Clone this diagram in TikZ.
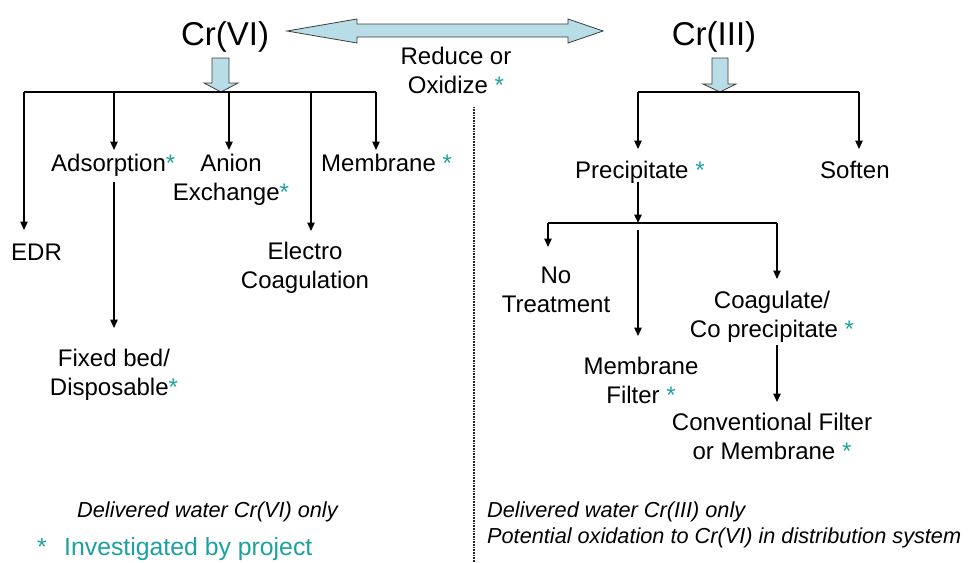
\documentclass[tikz,border=0pt]{standalone}
\usepackage{fontspec}
\setmainfont{Liberation Sans}
\usetikzlibrary{arrows.meta}
\definecolor{teal}{RGB}{28,160,160}
\definecolor{lblue}{RGB}{185,221,230}
\definecolor{edge}{RGB}{60,60,60}
\newcommand{\st}{\textcolor{teal}{*}}
\begin{document}
\begin{tikzpicture}[x=1pt,y=-1pt,
  lbl/.style={inner sep=0pt,font=\fontsize{24}{29}\selectfont,align=center},
  big/.style={inner sep=0pt,font=\fontsize{33}{38}\selectfont},
  note/.style={inner sep=0pt,font=\fontsize{21.7}{26}\selectfont\itshape,align=left},
  bus/.style={line width=1.3pt,black},
  arr/.style={line width=1.3pt,black,-{Triangle[width=7.5pt,length=8.5pt]}},
  blockarrow/.style={fill=lblue,draw=edge,line width=0.8pt,line join=miter}]
\useasboundingbox (0,0) rectangle (968,562);

% titles
\node[big,anchor=base] (cr6) at (225,45) {Cr(VI)};
\node[big,anchor=base] (cr3) at (714,45) {Cr(III)};
\node[lbl,anchor=base] (redox) at (456,93) {Reduce or\\Oxidize \st};

% double block arrow between Cr(VI) and Cr(III)
\draw[blockarrow] (287,31) -- (357,19) -- (357,24) -- (568,24) -- (568,19) -- (603,31)
  -- (568,43) -- (568,37) -- (357,37) -- (357,43) -- cycle;

% small block arrows
\draw[blockarrow] (212,58) -- (229,58) -- (229,83) -- (238,83) -- (221,92) -- (204,83) -- (212,83) -- cycle;
\draw[blockarrow] (712,58) -- (728,58) -- (728,84) -- (736,84) -- (720,92) -- (703,84) -- (712,84) -- cycle;

% left tree labels
\node[lbl,anchor=base west] (edr) at (11,260) {EDR};
\node[lbl,anchor=base west] (ads) at (51,171) {Adsorption\st};
\node[lbl,anchor=base] (anion) at (231,200) {Anion\\Exchange\st};
\node[lbl,anchor=base west] (memb) at (321,171) {Membrane \st};
\node[lbl,anchor=base] (electro) at (305,288) {Electro\\Coagulation};
\node[lbl,anchor=base] (fixed) at (114,395) {Fixed bed/\\Disposable\st};

% left tree connectors
\coordinate (lb1) at (24,92);
\coordinate (lb2) at (114,92);
\coordinate (lb3) at (229,92);
\coordinate (lb4) at (311,92);
\coordinate (lb5) at (376,92);
\coordinate (tEDR) at (24,230);
\coordinate (tADS) at (114,150);
\coordinate (tAN) at (229,150);
\coordinate (tEL) at (311,231);
\coordinate (tME) at (376,150);
\coordinate (sADS) at (114,182);
\coordinate (tFX) at (114,328);
\draw[bus] (lb1) -- (lb5);
\draw[arr] (lb1) -- (tEDR);
\draw[arr] (lb2) -- (tADS);
\draw[arr] (lb3) -- (tAN);
\draw[arr] (lb4) -- (tEL);
\draw[arr] (lb5) -- (tME);
\draw[arr] (sADS) -- (tFX);

% divider
\coordinate (dtop) at (474,107);
\coordinate (dbot) at (474,562);
\draw[line width=1.2pt,black!85,dash pattern=on 1pt off 0.6pt] (dtop) -- (dbot);

% right tree labels
\node[lbl,anchor=base west] (prec) at (575,178) {Precipitate \st};
\node[lbl,anchor=base west] (soft) at (820,178) {Soften};
\node[lbl,anchor=base] (notr) at (556,312) {No\\Treatment};
\node[lbl,anchor=base] (coag) at (772,337) {Coagulate/\\Co precipitate \st};
\node[lbl,anchor=base] (mfil) at (641,403) {Membrane\\Filter \st};
\node[lbl,anchor=base] (conv) at (772,459) {Conventional Filter\\or Membrane \st};

% right tree connectors
\coordinate (rb1) at (638,92);
\coordinate (rb2) at (859,92);
\coordinate (tPR) at (638,149);
\coordinate (tSO) at (859,149);
\coordinate (sPR) at (638,182);
\coordinate (jPR) at (638,223);
\coordinate (qb1) at (548,223);
\coordinate (qb3) at (777,223);
\coordinate (tNT) at (548,247);
\coordinate (sMF) at (638,230);
\coordinate (tMF) at (638,336);
\coordinate (tCO) at (777,279);
\coordinate (sCO) at (777,345);
\coordinate (tCV) at (777,402);
\draw[bus] (rb1) -- (rb2);
\draw[arr] (rb1) -- (tPR);
\draw[arr] (rb2) -- (tSO);
\draw[arr] (sPR) -- (jPR);
\draw[bus] (qb1) -- (qb3);
\draw[arr] (qb1) -- (tNT);
\draw[arr] (qb3) -- (tCO);
\draw[arr] (sMF) -- (tMF);
\draw[arr] (sCO) -- (tCV);

% notes
\node[note,anchor=base west] (n6) at (77,517) {Delivered water Cr(VI) only};
\node[note,anchor=base west] (n3) at (487,543) {Delivered water Cr(III) only\\Potential oxidation to Cr(VI) in distribution system};
\node[inner sep=0pt,font=\fontsize{24.8}{29}\selectfont,anchor=base west,text=teal] (legstar) at (37,555) {*};
\node[inner sep=0pt,font=\fontsize{24.8}{29}\selectfont,anchor=base west,text=teal] (legend) at (64,555) {Investigated by project};
\end{tikzpicture}
\end{document}
